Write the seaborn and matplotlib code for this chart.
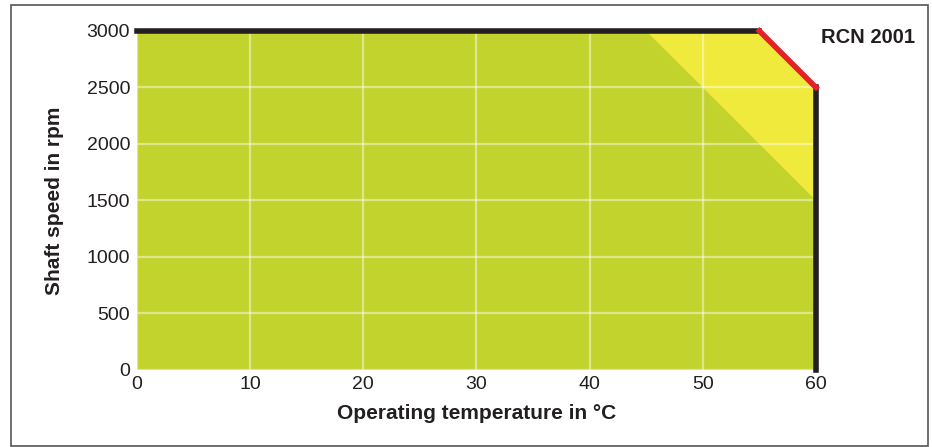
import matplotlib
matplotlib.use("Agg")
import matplotlib.pyplot as plt
import matplotlib.patches as patches
import seaborn as sns
import pandas as pd

# operating range (green) and derating zone (yellow)
range_temp = [0, 0, 55, 60, 60]
range_speed = [0, 3000, 3000, 2500, 0]
derate_temp = [45, 55, 60, 60]
derate_speed = [3000, 3000, 2500, 1500]

# boundary lines
top_temp = [0, 55]
top_speed = [3000, 3000]
slope_temp = [55, 60]
slope_speed = [3000, 2500]
side_temp = [60, 60]
side_speed = [2500, 0]

x_ticks = [0, 10, 20, 30, 40, 50, 60]
y_ticks = [0, 500, 1000, 1500, 2000, 2500, 3000]

sns.set_style("white")
plt.rcParams['font.family'] = ['Liberation Sans', 'DejaVu Sans']

fig = plt.figure(figsize=(9.32, 4.47), dpi=100)
ax = fig.add_axes([0.147, 0.1723, 0.7285, 0.7584])

ax.fill(range_temp, range_speed, color='#c3d32d', lw=0, zorder=1)
ax.fill(derate_temp, derate_speed, color='#f0ea3c', lw=0, zorder=1)

for xs, ys, col in [(top_temp, top_speed, '#231f20'),
                    (side_temp, side_speed, '#231f20'),
                    (slope_temp, slope_speed, '#e4202a')]:
    d = pd.DataFrame({'t': xs, 's': ys})
    sns.lineplot(data=d, x='t', y='s', color=col, lw=4, ax=ax,
                 estimator=None, sort=False,
                 zorder=4, clip_on=False, solid_capstyle='projecting')

ax.set_xlim(0, 60)
ax.set_ylim(0, 3000)
ax.set_xticks(x_ticks)
ax.set_yticks(y_ticks)
ax.grid(True, color='white', alpha=0.45, lw=1.6, zorder=2)
ax.set_axisbelow(False)
for s in ax.spines.values():
    s.set_visible(False)
ax.tick_params(length=0, labelsize=14, colors='#231f20', pad=5)
ax.tick_params(axis='x', pad=4)

ax.set_xlabel('Operating temperature in °C', fontsize=15, fontweight='bold',
              color='#231f20', labelpad=8)
ax.set_ylabel('Shaft speed in rpm', fontsize=15, fontweight='bold',
              color='#231f20', labelpad=16)

fig.text(0.982, 0.917, 'RCN 2001', ha='right', va='center', fontsize=14.5,
         fontweight='bold', color='#231f20')

frame = patches.Rectangle((11 / 932, 1 / 447), 917 / 932, 441 / 447,
                          transform=fig.transFigure, fill=False,
                          edgecolor='#555555', lw=1.2)
fig.patches.append(frame)

fig.savefig('out.png', dpi=100)
